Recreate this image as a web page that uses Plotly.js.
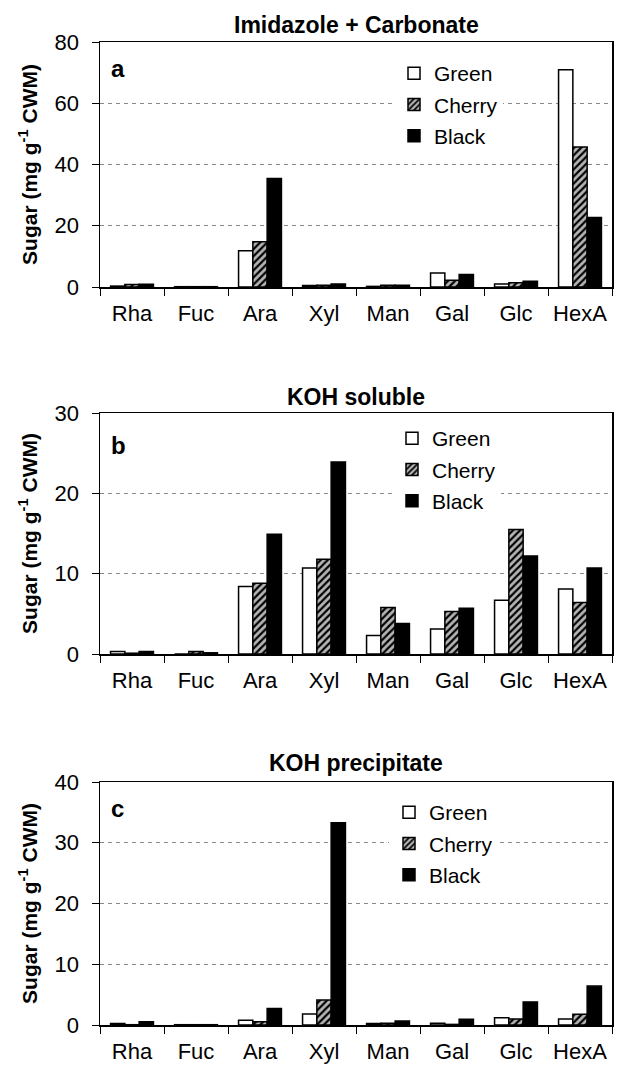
<!DOCTYPE html>
<html>
<head>
<meta charset="utf-8">
<script src="https://cdn.plot.ly/plotly-3.0.1.min.js"></script>
<style>html,body{margin:0;padding:0;background:#fff;}#chart{width:617px;height:1068px;}</style>
</head>
<body>
<div id="chart"></div>
<script>
const categories = ["Rha", "Fuc", "Ara", "Xyl", "Man", "Gal", "Glc", "HexA"];
const seriesNames = ["Green", "Cherry", "Black"];

// Panel a: Imidazole + Carbonate
const aGreen  = [0.3, 0.1, 11.8, 0.5, 0.2, 4.6, 1.0, 70.9];
const aCherry = [0.8, 0.1, 14.8, 0.6, 0.6, 2.2, 1.4, 45.7];
const aBlack  = [0.9, 0.1, 35.4, 1.0, 0.6, 4.1, 1.9, 22.7];

// Panel b: KOH soluble
const bGreen  = [0.3, 0.0, 8.4, 10.7, 2.3, 3.1, 6.7, 8.1];
const bCherry = [0.1, 0.3, 8.8, 11.8, 5.8, 5.3, 15.5, 6.4];
const bBlack  = [0.3, 0.15, 14.9, 23.9, 3.8, 5.7, 12.2, 10.7];

// Panel c: KOH precipitate
const cGreen  = [0.25, 0.05, 0.8, 1.8, 0.25, 0.3, 1.2, 1.0];
const cCherry = [0.05, 0.05, 0.55, 4.1, 0.3, 0.1, 1.0, 1.75];
const cBlack  = [0.55, 0.05, 2.7, 33.3, 0.65, 0.93, 3.8, 6.4];

const panelTitles = ["Imidazole + Carbonate", "KOH soluble", "KOH precipitate"];
const panelLetters = ["a", "b", "c"];
const yMax = [80, 30, 40];
const yStep = [20, 10, 10];

const FONT = "Liberation Sans, Arial, sans-serif";
const H = 1068;
const PL = 100, PW = 512;

const panels = [
  [aGreen, aCherry, aBlack],
  [bGreen, bCherry, bBlack],
  [cGreen, cCherry, cBlack]
];

// pixel geometry of each plot area (top, bottom)
const plotPx = [[42, 287], [413, 654], [782, 1025]];
const titlePx = [25, 397, 763];
const legendPx = [[394, 53], [392, 418], [389, 792]];
const letterY = [0.89, 0.865, 0.89];

const styles = [
  {color: "#ffffff", pattern: null},
  {color: "#ffffff", pattern: {shape: "/", fgcolor: "#000000", bgcolor: "#b5b5b5", size: 5, solidity: 0.45}},
  {color: "#000000", pattern: null}
];

const traces = [];
panels.forEach((vals, p) => {
  vals.forEach((v, s) => {
    const m = {color: styles[s].color, line: {color: "#000", width: 1.5}};
    if (styles[s].pattern) m.pattern = styles[s].pattern;
    traces.push({
      type: "bar",
      name: seriesNames[s],
      x: categories,
      y: v,
      xaxis: p === 0 ? "x" : "x" + (p + 1),
      yaxis: p === 0 ? "y" : "y" + (p + 1),
      legend: p === 0 ? "legend" : "legend" + (p + 1),
      legendgroup: "p" + p + "s" + s,
      marker: m,
      hoverinfo: "x+y+name"
    });
  });
});

const layout = {
  width: 617,
  height: H,
  margin: {l: PL, r: 5, t: 0, b: 0},
  paper_bgcolor: "#fff",
  plot_bgcolor: "#fff",
  font: {family: FONT, size: 21, color: "#000"},
  barmode: "group",
  bargap: 0.33,
  bargroupgap: 0,
  annotations: [],
  showlegend: true
};

for (let p = 0; p < 3; p++) {
  const sfx = p === 0 ? "" : String(p + 1);
  const top = 1 - plotPx[p][0] / H;
  const bot = 1 - plotPx[p][1] / H;
  layout["xaxis" + sfx] = {
    domain: [0, 1],
    anchor: "y" + sfx,
    type: "category",
    showline: true, mirror: true, linecolor: "#000", linewidth: 1.5,
    ticks: "outside", tickson: "boundaries", ticklen: 7, tickcolor: "#000", tickwidth: 1,
    showgrid: false,
    ticklabelstandoff: 6,
    tickfont: {family: FONT, size: 22, color: "#000"},
    fixedrange: true
  };
  layout["yaxis" + sfx] = {
    domain: [bot, top],
    anchor: "x" + sfx,
    range: [0, yMax[p]],
    dtick: yStep[p],
    tick0: 0,
    showline: true, mirror: true, linecolor: "#000", linewidth: 1.5,
    ticks: "outside", ticklen: 7, tickcolor: "#000", tickwidth: 1,
    showgrid: true, gridcolor: "#888", gridwidth: 1, griddash: "4px,4px",
    zeroline: false,
    ticklabelstandoff: 8,
    tickfont: {family: FONT, size: 22, color: "#000"},
    title: {text: "Sugar (mg g<sup>-1</sup> CWM)", font: {family: FONT, size: 21, color: "#000", weight: "bold"}, standoff: 11},
    fixedrange: true
  };
  layout[p === 0 ? "legend" : "legend" + (p + 1)] = {
    x: (legendPx[p][0] - PL) / PW, xref: "paper", xanchor: "left",
    y: 1 - legendPx[p][1] / H, yref: "paper", yanchor: "top",
    bgcolor: "#fff",
    borderwidth: 0,
    traceorder: "grouped",
    tracegroupgap: 1,
    font: {family: FONT, size: 21, color: "#000"}
  };
  layout.annotations.push({
    text: "<b>" + panelTitles[p] + "</b>",
    xref: "paper", yref: "paper",
    x: 0.5, y: 1 - titlePx[p] / H,
    xanchor: "center", yanchor: "middle",
    showarrow: false,
    font: {family: FONT, size: 23, color: "#000"}
  });
  layout.annotations.push({
    text: "<b>" + panelLetters[p] + "</b>",
    xref: "x" + sfx + " domain", yref: "y" + sfx + " domain",
    x: 0.018, y: letterY[p],
    xanchor: "left", yanchor: "middle",
    showarrow: false,
    font: {family: FONT, size: 24, color: "#000"}
  });
}

Plotly.newPlot("chart", traces, layout, {displayModeBar: false, staticPlot: true});
</script>
</body>
</html>
